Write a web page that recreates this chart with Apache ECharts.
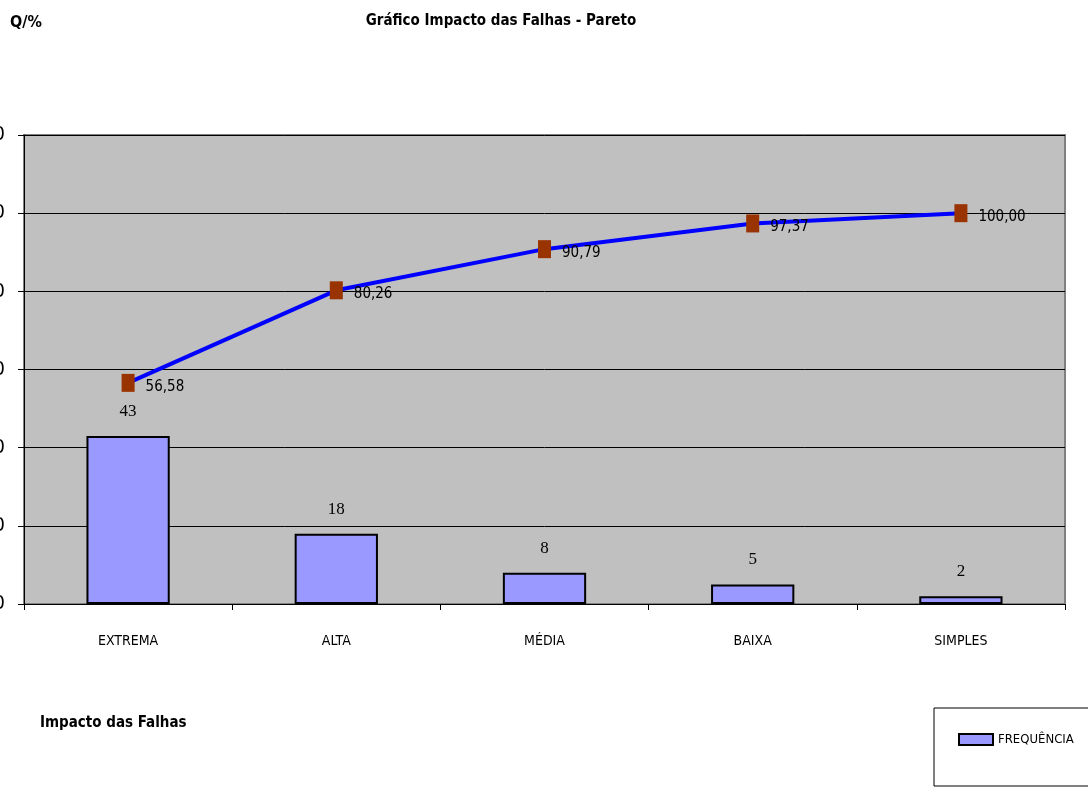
<!DOCTYPE html>
<html>
<head>
<meta charset="utf-8">
<script src="https://cdn.jsdelivr.net/npm/echarts@6/dist/echarts.min.js"></script>
<style>
    html, body { margin: 0; padding: 0; background: #fff; }
    #chart { width: 1088px; height: 789px; }
</style>
</head>
<body>
<div id="chart"></div>
<script>
    // dados do gráfico de Pareto
    const categorias = ['EXTREMA', 'ALTA', 'MÉDIA', 'BAIXA', 'SIMPLES'];
    const frequencia = [43, 18, 8, 5, 2];
    const acumulado = [56.58, 80.26, 90.79, 97.37, 100.00];
    const yTicks = [0, 20, 40, 60, 80, 100, 120];

    const narrow = '"Liberation Sans Narrow", "DejaVu Sans Condensed", sans-serif';

    const myChart = echarts.init(document.getElementById('chart'));
    const option = {
        animation: false,
        backgroundColor: '#ffffff',
        title: {
            text: 'Gráfico Impacto das Falhas - Pareto',
            left: 496,
            top: 9,
            textAlign: 'center',
            textStyle: { fontFamily: narrow, fontSize: 15, fontWeight: 'bold', color: '#000' }
        },
        graphic: [
            {
                type: 'text', left: 10, top: 15,
                style: { text: 'Q/%', font: 'bold 16px ' + narrow, fill: '#000' }
            },
            {
                type: 'text', left: 40, top: 716,
                style: { text: 'Impacto das Falhas', font: 'bold 15px ' + narrow, fill: '#000' }
            }
        ],
        legend: {
            data: ['FREQUÊNCIA'],
            left: 934,
            top: 708,
            padding: [25, 40, 40, 24],
            borderColor: '#000',
            borderWidth: 1,
            itemWidth: 34,
            itemHeight: 11,
            icon: 'rect',
            textStyle: { fontFamily: narrow, fontSize: 13, color: '#000' }
        },
        grid: {
            left: 24,
            right: 23,
            top: 135,
            bottom: 185,
            outerBoundsMode: 'none',
            containLabel: false,
            show: true,
            backgroundColor: '#c0c0c0',
            borderColor: '#808080',
            borderWidth: 2
        },
        xAxis: {
            type: 'category',
            data: categorias,
            axisLine: { lineStyle: { color: '#000', width: 1 } },
            axisTick: { show: true, length: 6, lineStyle: { color: '#000' } },
            axisLabel: { margin: 30, fontFamily: narrow, fontSize: 14, color: '#000' }
        },
        yAxis: {
            type: 'value',
            min: yTicks[0],
            max: yTicks[yTicks.length - 1],
            interval: 20,
            axisLine: { show: true, lineStyle: { color: '#000' } },
            axisTick: { show: true, length: 6, lineStyle: { color: '#000' } },
            axisLabel: { margin: 19, fontFamily: narrow, fontSize: 20, color: '#000' },
            splitLine: { show: true, lineStyle: { color: '#000', width: 1 } }
        },
        series: [
            {
                name: 'FREQUÊNCIA',
                type: 'bar',
                data: frequencia,
                barWidth: '40%',
                itemStyle: { color: '#9999ff', borderColor: '#000', borderWidth: 2 },
                label: {
                    show: true,
                    position: 'top',
                    distance: 16,
                    fontFamily: '"Liberation Serif", serif',
                    fontSize: 17,
                    color: '#000'
                }
            },
            {
                name: 'Acumulado',
                type: 'line',
                data: acumulado,
                symbol: 'rect',
                symbolSize: [13, 18],
                itemStyle: { color: '#993300' },
                lineStyle: { color: '#0000ff', width: 4 },
                z: 5,
                label: {
                    show: true,
                    position: 'right',
                    distance: 11,
                    offset: [0, 4],
                    fontFamily: narrow,
                    fontSize: 15,
                    color: '#000',
                    formatter: function (p) {
                        return p.value.toFixed(2).replace('.', ',');
                    }
                }
            }
        ]
    };
    myChart.setOption(option);
</script>
</body>
</html>
